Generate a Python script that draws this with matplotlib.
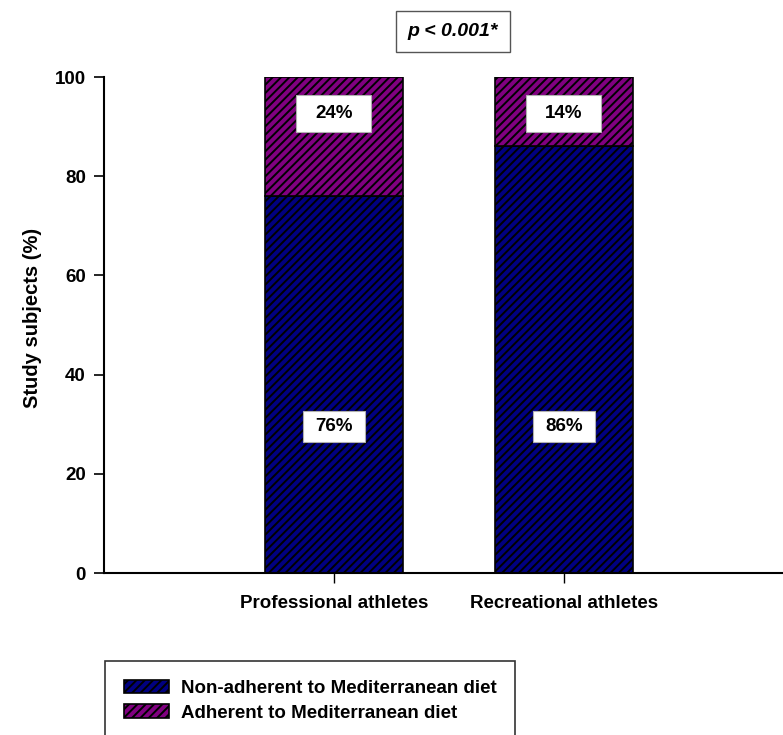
import matplotlib
matplotlib.use("Agg")
import matplotlib.pyplot as plt
from matplotlib.patches import Rectangle
import numpy as np

plt.rcParams['font.family'] = ['Liberation Sans', 'DejaVu Sans']
plt.rcParams['font.weight'] = 'bold'
plt.rcParams['hatch.linewidth'] = 1.4

groups = ["Professional athletes", "Recreational athletes"]
non_adherent = [76, 86]
adherent = [24, 14]
series_names = ["Non-adherent to Mediterranean diet", "Adherent to Mediterranean diet"]
colors = ["#000080", "#800080"]
yticks = [0, 20, 40, 60, 80, 100]
p_text = "p < 0.001*"

fig = plt.figure(figsize=(7.83, 7.35), dpi=100)
ax = fig.add_axes([0.1328, 0.2204, 0.866, 0.6748])

x = np.arange(len(groups))
b1 = ax.bar(x, non_adherent, width=0.6, color=colors[0], edgecolor="black",
            hatch="////", linewidth=1.2, label=series_names[0])
b2 = ax.bar(x, adherent, width=0.6, bottom=non_adherent, color=colors[1],
            edgecolor="black", hatch="////", linewidth=1.2, label=series_names[1])


def label_box(xc, yc, w, h, txt):
    # white box behind the percentage label
    ax.add_patch(Rectangle((xc - w / 2, yc - h / 2), w, h, facecolor="white",
                           edgecolor="#b0b0b0", linewidth=0.8, zorder=3))
    ax.text(xc, yc, txt, ha="center", va="center", fontsize=13.5,
            fontweight="bold", zorder=4)


for i in range(len(groups)):
    label_box(x[i], 29.6, 0.27, 6.3, f"{non_adherent[i]}%")
    label_box(x[i], 92.7, 0.326, 7.5, f"{adherent[i]}%")

ax.set_xlim(-1.0, 1.95)
ax.set_ylim(0, 100)
ax.set_yticks(yticks)
ax.set_xticks(x)
ax.set_xticklabels(groups, fontsize=13.5, fontweight="bold")
ax.tick_params(axis="y", labelsize=13.5, length=7, width=1.2, pad=6)
ax.tick_params(axis="x", length=7, width=1, pad=9)
for lbl in ax.get_yticklabels():
    lbl.set_fontweight("bold")
ax.spines["top"].set_visible(False)
ax.spines["right"].set_visible(False)
ax.spines["left"].set_linewidth(1.5)
ax.spines["bottom"].set_linewidth(1.5)
ax.set_ylabel("Study subjects (%)", fontsize=14.5, fontweight="bold")
ax.yaxis.set_label_coords(-0.092, 0.515)

fig.text(0.5785, 0.957, p_text, ha="center", va="center", fontsize=14,
         fontweight="bold", style="italic",
         bbox=dict(boxstyle="square,pad=0.6", facecolor="white", edgecolor="#555555", linewidth=1))

leg = fig.legend(handles=[b1, b2], loc="upper left",
                 bbox_to_anchor=(105 / 783, 1 - 661 / 735),
                 fontsize=13.5, frameon=True, fancybox=False, edgecolor="black",
                 handlelength=2.4, handleheight=0.7, handletextpad=0.64,
                 borderpad=1.0, labelspacing=0.4, borderaxespad=0)
leg.get_frame().set_linewidth(1.2)
for t in leg.get_texts():
    t.set_fontweight("bold")

fig.savefig("out.png", dpi=100)
